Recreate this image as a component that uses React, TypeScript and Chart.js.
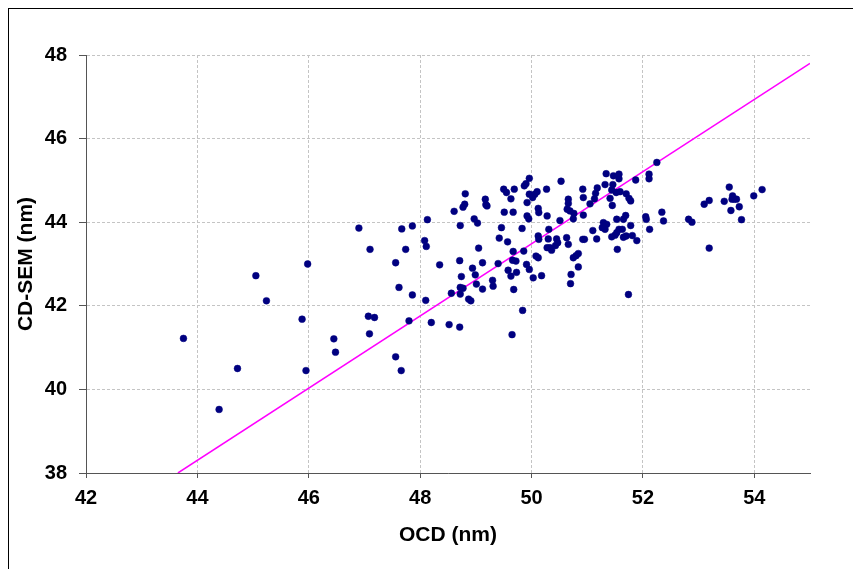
import React, { useEffect, useRef } from "react";
import { Chart, registerables } from "chart.js";

Chart.register(...registerables);

// OCD (x) and CD-SEM (y) measurements, in nm
const ocdValues: number[] = [
  45.05, 45.24, 43.75, 44.72, 44.39, 45.98, 46.9, 47.1, 47.67, 47.86,
  47.74, 47.56, 47.62, 47.86, 48.13, 48.08, 48.11, 48.35, 48.1, 45.88,
  47.07, 47.18, 47.09, 46.45, 47.8, 48.2, 48.52, 48.71, 48.56, 48.72,
  48.72, 48.77, 48.87, 48.91, 48.74, 48.99, 48.94, 49.01, 48.71, 49.05,
  48.72, 48.97, 49.03, 48.61, 48.77, 48.8, 48.81, 46.48, 45.95, 47.56,
  47.66, 49.12, 49.3, 49.31, 49.96, 49.9, 49.87, 50.53, 51.34, 51.47,
  51.57, 51.87, 51.32, 51.46, 51.44, 51.52, 51.59, 51.7, 51.75, 51.78,
  51.18, 51.15, 51.13, 50.92, 50.93, 51.05, 51.41, 51.45, 50.27, 50.1,
  50.06, 49.96, 50.02, 49.92, 50.12, 50.13, 49.92, 49.95, 50.28, 50.66,
  50.66, 50.64, 50.69, 50.76, 50.75, 50.51, 49.5, 49.55, 49.63, 49.69,
  49.51, 49.67, 49.17, 49.18, 49.2, 49.46, 49.83, 49.42, 49.57, 49.67,
  49.86, 50.12, 50.13, 50.31, 50.3, 50.45, 50.47, 50.43, 50.28, 50.33,
  50.36, 50.63, 50.66, 50.92, 50.95, 50.93, 51.1, 51.17, 51.29, 51.32,
  51.35, 51.27, 51.53, 51.65, 51.69, 51.63, 51.57, 51.53, 51.44, 51.5,
  51.65, 51.7, 51.81, 51.78, 51.89, 51.54, 52.05, 52.06, 52.12, 49.12,
  49.4, 49.58, 49.63, 49.66, 49.72, 49.73, 49.68, 49.91, 49.96, 50.03,
  50.18, 50.08, 50.12, 49.84, 49.65, 50.75, 50.84, 50.8, 50.84, 50.71,
  50.7, 51.74, 52.25, 52.11, 52.11, 52.34, 52.37, 52.82, 52.88, 53.1,
  53.19, 53.19, 53.55, 53.46, 53.61, 53.64, 53.6, 53.68, 53.58, 53.73,
  53.77, 53.99, 54.14, 51.57,
];

const cdSemValues: number[] = [
  42.72, 42.12, 41.22, 40.5, 39.52, 43.0, 43.86, 43.35, 43.84, 43.91,
  43.35, 43.03, 42.44, 42.26, 44.06, 43.56, 43.42, 42.98, 42.13, 41.68,
  41.75, 41.72, 41.33, 41.21, 41.64, 41.6, 41.55, 41.49, 42.3, 42.28,
  42.44, 42.42, 42.16, 42.12, 42.7, 42.74, 42.9, 42.52, 43.08, 43.38,
  43.92, 44.08, 43.98, 44.26, 44.36, 44.43, 44.68, 40.89, 40.45, 40.78,
  40.45, 42.4, 42.61, 42.47, 45.05, 44.92, 44.87, 44.98, 45.16, 45.11,
  45.15, 45.01, 44.9, 44.9, 44.77, 44.71, 44.73, 44.68, 44.57, 44.51,
  44.82, 44.69, 44.56, 44.79, 44.59, 44.44, 44.57, 44.4, 44.79, 44.73,
  44.67, 44.67, 44.59, 44.47, 44.33, 44.23, 44.15, 44.08, 44.15, 44.55,
  44.45, 44.31, 44.27, 44.21, 44.08, 44.04, 44.79, 44.71, 44.56, 44.79,
  44.24, 44.24, 44.55, 44.42, 44.39, 43.87, 43.85, 43.62, 43.53, 43.3,
  43.31, 43.67, 43.59, 43.83, 43.6, 43.6, 43.51, 43.44, 43.39, 43.39,
  43.33, 43.63, 43.47, 43.59, 43.59, 44.17, 43.8, 43.6, 43.99, 43.83,
  43.95, 43.87, 44.07, 44.07, 44.16, 43.83, 43.83, 43.75, 43.65, 43.69,
  43.64, 43.67, 43.68, 43.92, 43.56, 43.35, 44.13, 44.07, 43.83, 43.03,
  43.01, 42.85, 42.71, 43.09, 43.07, 42.8, 42.39, 42.99, 42.87, 42.67,
  42.72, 43.19, 43.15, 41.89, 41.31, 43.15, 43.25, 43.2, 42.93, 42.75,
  42.53, 42.27, 45.43, 45.15, 45.04, 44.24, 44.03, 44.07, 44.0, 44.43,
  44.52, 43.38, 44.84, 44.5, 44.63, 44.55, 44.55, 44.55, 44.28, 44.37,
  44.06, 44.63, 44.78, 45.04,
];

// reference line end points (OCD, CD-SEM)
const lineOcd: number[] = [43.65, 55];
const lineCdSem: number[] = [38, 47.8];

const xTitle = "OCD (nm)";
const yTitle = "CD-SEM (nm)";

export default function App() {
  const canvasRef = useRef<HTMLCanvasElement | null>(null);

  useEffect(() => {
    if (!canvasRef.current) return;
    const points = ocdValues.map((x, i) => ({ x, y: cdSemValues[i] }));
    const linePts = lineOcd.map((x, i) => ({ x, y: lineCdSem[i] }));
    const fontFamily = "'Liberation Sans', Arial, sans-serif";
    const chart = new Chart(canvasRef.current, {
      type: "scatter",
      data: {
        datasets: [
          {
            data: points,
            backgroundColor: "#000080",
            borderColor: "#000080",
            borderWidth: 0.5,
            pointRadius: 3.4,
          },
          {
            type: "line",
            data: linePts,
            borderColor: "#FF00FF",
            borderWidth: 1.5,
            pointRadius: 0,
            showLine: true,
            fill: false,
            tension: 0,
          } as any,
        ],
      },
      options: {
        animation: false,
        responsive: true,
        maintainAspectRatio: false,
        layout: { padding: { top: 46, right: 35, left: 0, bottom: 0 } },
        plugins: {
          legend: { display: false },
          tooltip: { enabled: false },
        },
        scales: {
          x: {
            type: "linear",
            min: 42,
            max: 55,
            afterFit: (s: any) => {
              s.height = 88;
            },
            ticks: {
              stepSize: 2,
              includeBounds: false,
              color: "#000",
              padding: 8,
              font: { family: fontFamily, size: 20, weight: "bold" },
            },
            grid: {
              color: "#c4c4c4",
              lineWidth: 1,
              tickLength: 5,
              tickColor: "#555",
              tickBorderDash: [],
            },
            border: { display: true, color: "#555", width: 1, dash: [3, 2] },
            title: {
              display: true,
              text: xTitle,
              color: "#000",
              font: { family: fontFamily, size: 21, weight: "bold" },
              padding: { top: 0, bottom: 13 },
            },
          },
          y: {
            type: "linear",
            min: 38,
            max: 48,
            afterFit: (s: any) => {
              s.width = 77;
            },
            ticks: {
              stepSize: 2,
              color: "#000",
              padding: 12,
              font: { family: fontFamily, size: 20, weight: "bold" },
            },
            grid: {
              color: "#c4c4c4",
              lineWidth: 1,
              tickLength: 7,
              tickColor: "#555",
              tickBorderDash: [],
            },
            border: { display: true, color: "#555", width: 1, dash: [3, 2] },
            title: {
              display: true,
              text: yTitle,
              color: "#000",
              font: { family: fontFamily, size: 21, weight: "bold" },
              padding: { top: 5, bottom: 0 },
            },
          },
        },
      },
    });
    return () => chart.destroy();
  }, []);

  return (
    <div
      style={{
        position: "fixed",
        left: 8,
        top: 8,
        width: 850,
        height: 570,
        borderTop: "1px solid #000",
        borderLeft: "1px solid #000",
        background: "#fff",
      }}
    >
      <div style={{ position: "relative", width: 836, height: 552 }}>
        <canvas ref={canvasRef} />
      </div>
    </div>
  );
}
